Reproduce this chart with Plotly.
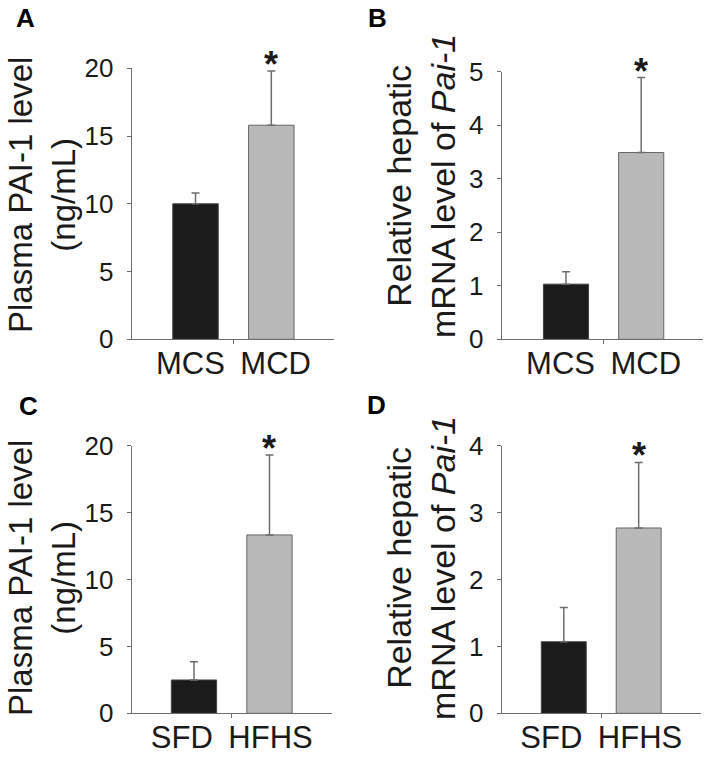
import plotly.graph_objects as go

# ---- data ----
cats_ab = ["MCS", "MCD"]
cats_cd = ["SFD", "HFHS"]
vals_a = [10.0, 15.8]
errs_a = [0.8, 4.0]
vals_b = [1.03, 3.49]
errs_b = [0.23, 1.40]
vals_c = [2.49, 13.33]
errs_c = [1.37, 5.97]
vals_d = [1.07, 2.77]
errs_d = [0.51, 0.98]
yranges = [[0, 20], [0, 5], [0, 20], [0, 4]]
ydticks = [5, 1, 5, 1]
ytitles = ["Plasma PAI-1 level<br>(ng/mL)",
           "Relative hepatic<br>mRNA level of <i>Pai-1</i>",
           "Plasma PAI-1 level<br>(ng/mL)",
           "Relative hepatic<br>mRNA level of <i>Pai-1</i>"]
letters = ["A", "B", "C", "D"]

FONT = "Liberation Sans, Arial, sans-serif"
W, H = 709, 761
AXC = "#6e6e6e"
bar_fill = ["#1b1b1b", "#b9b9b9"]
bar_line = ["#444444", "#666666"]

# panel geometry in pixels (left, right, top, bottom of plot area)
panels = [
    (131.7, 334.0, 68.3, 339.3),
    (501.7, 703.0, 71.7, 339.3),
    (131.7, 332.3, 445.7, 713.3),
    (501.7, 700.7, 445.7, 713.3),
]
xranges = [[-0.842, 1.827], [-0.855, 1.822], [-0.825, 1.832], [-0.829, 1.828]]
title_pos = [(42, 195), (421, 186), (42, 578), (421, 568)]
title_size = [33, 34, 33, 34]
letter_pos = [(25, 18), (378, 18), (28.5, 406), (376.5, 405)]

datasets = [(cats_ab, vals_a, errs_a), (cats_ab, vals_b, errs_b),
            (cats_cd, vals_c, errs_c), (cats_cd, vals_d, errs_d)]

fig = go.Figure()
layout = dict(width=W, height=H, margin=dict(l=0, r=0, t=0, b=0, autoexpand=False),
              paper_bgcolor="white", plot_bgcolor="white", showlegend=False,
              font=dict(family=FONT, color="#1a1a1a"), annotations=[])

for i, (cats, vals, errs) in enumerate(datasets):
    n = "" if i == 0 else str(i + 1)
    xa, ya = "x" + n, "y" + n
    fig.add_trace(go.Bar(
        x=[0, 1], y=vals, width=0.6, xaxis=xa, yaxis=ya,
        marker=dict(color=bar_fill, line=dict(color=bar_line, width=1)),
        error_y=dict(type="data", symmetric=False, array=errs, arrayminus=[0, 0],
                     color=AXC, thickness=1.5, width=4),
        cliponaxis=False, hoverinfo="skip",
    ))
    l, r, t, b = panels[i]
    layout["xaxis" + n] = dict(
        domain=[l / W, r / W], range=xranges[i], anchor=ya,
        showline=True, linecolor=AXC, linewidth=1, showgrid=False, zeroline=False,
        tickmode="array", tickvals=[0.5], ticktext=["\u2002".join(cats)], tickangle=0,
        ticks="outside", ticklen=4, tickcolor=AXC, tickwidth=1,
        ticklabelstandoff=-8,
        tickfont=dict(size=31, family=FONT, color="#1a1a1a"),
        automargin=False, fixedrange=True,
    )
    layout["yaxis" + n] = dict(
        domain=[1 - b / H, 1 - t / H], range=yranges[i], anchor=xa,
        showline=True, linecolor=AXC, linewidth=1, showgrid=False, zeroline=False,
        tickmode="linear", tick0=0, dtick=ydticks[i],
        ticks="outside", ticklen=4, tickcolor=AXC,
        ticklabelstandoff=8,
        tickfont=dict(size=26, family=FONT, color="#1a1a1a"),
        automargin=False, fixedrange=True,
    )
    # significance star
    layout["annotations"].append(dict(
        x=1, y=vals[1] + errs[1], xref=xa, yref=ya, text="<b>*</b>",
        showarrow=False, yanchor="bottom", yshift=-16,
        font=dict(size=36, family=FONT, color="#1a1a1a")))
    # y title
    tx, ty = title_pos[i]
    layout["annotations"].append(dict(
        x=tx / W, y=1 - ty / H, xref="paper", yref="paper", text=ytitles[i],
        textangle=-90, showarrow=False, xanchor="center", yanchor="middle",
        font=dict(size=title_size[i], family=FONT, color="#1a1a1a")))
    # panel letter
    lx, ly = letter_pos[i]
    layout["annotations"].append(dict(
        x=lx / W, y=1 - ly / H, xref="paper", yref="paper", text="<b>" + letters[i] + "</b>",
        showarrow=False, xanchor="center", yanchor="middle",
        font=dict(size=26, family=FONT, color="#000000")))

fig.update_layout(**layout)
fig.write_html("out.html", config={"displayModeBar": False, "staticPlot": True},
               post_script="document.body.style.margin='0';")
